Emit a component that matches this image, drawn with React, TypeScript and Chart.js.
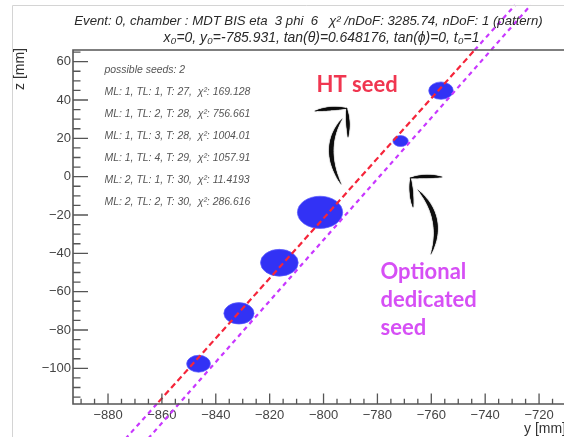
import React, { useEffect, useRef } from "react";
import { Chart, registerables } from "chart.js";

Chart.register(...registerables);

// ---- data (y in mm along horizontal axis, z in mm along vertical axis) ----
const hitY = [-846.4, -831.4, -816.4, -801.3, -771.4, -756.4];
const hitZ = [-97.6, -71.3, -44.9, -18.6, 18.6, 44.9];
const hitR = [4.4, 5.6, 7.0, 8.4, 2.85, 4.55];

const htSeedY = [-866.0, -738.2];
const htSeedZ = [-125, 75];
const optSeedY = [-867.2, -723.1];
const optSeedZ = [-140, 89.5];
const htExtTopY = [-743.9, -728.9];
const htExtTopZ = [66.1, 89.5];
const htExtBotY = [-861.9, -875.6];
const htExtBotZ = [-118.6, -140];

const xTicks = [-880, -860, -840, -820, -800, -780, -760, -740, -720];
const zTicks = [-100, -80, -60, -40, -20, 0, 20, 40, 60];
const xRange = [-893, -710];
const zRange = [-118.6, 66.1];

const titleLines = [
  "Event: 0, chamber : MDT BIS eta  3 phi  6   \u03c7\u00b2 /nDoF: 3285.74, nDoF: 1 (pattern)",
  "x\u2080=0, y\u2080=-785.931, tan(\u03b8)=0.648176, tan(\u03d5)=0, t\u2080=1",
];
const seedLines = [
  "possible seeds: 2",
  "ML: 1, TL: 1, T: 27,  \u03c7\u00b2: 169.128",
  "ML: 1, TL: 2, T: 28,  \u03c7\u00b2: 756.661",
  "ML: 1, TL: 3, T: 28,  \u03c7\u00b2: 1004.01",
  "ML: 1, TL: 4, T: 29,  \u03c7\u00b2: 1057.91",
  "ML: 2, TL: 1, T: 30,  \u03c7\u00b2: 11.4193",
  "ML: 2, TL: 2, T: 30,  \u03c7\u00b2: 286.616",
];
const xTitle = "y [mm]";
const zTitle = "z [mm]";
const htLabel = "HT seed";
const optLabel = ["Optional", "dedicated", "seed"];

const FONT = '"Liberation Sans", Arial, Helvetica, sans-serif';
const LATO = 'Lato, "Open Sans", sans-serif';
const RED = "#f5253a";
const MAG = "#c837ff";
const BLUE = "#3232f5";

const fmt = (v: number | string) => String(v).replace("-", "\u2212");
const pts = (xs: number[], ys: number[]) => xs.map((x, i) => ({ x, y: ys[i] }));

function fitSize(ctx: CanvasRenderingContext2D, text: string, style: string, family: string, target: number) {
  ctx.font = `${style} 20px ${family}`;
  const w = ctx.measureText(text).width;
  return (20 * target) / w;
}

function brush(ctx: CanvasRenderingContext2D, p0: number[], c: number[], p1: number[], w: number) {
  const n = 40;
  ctx.save();
  ctx.strokeStyle = "#111";
  ctx.lineCap = "round";
  ctx.shadowColor = "rgba(0,0,0,0.45)";
  ctx.shadowBlur = 1.5;
  let px = p0[0], py = p0[1];
  for (let i = 1; i <= n; i++) {
    const t = i / n;
    const x = (1 - t) * (1 - t) * p0[0] + 2 * (1 - t) * t * c[0] + t * t * p1[0];
    const y = (1 - t) * (1 - t) * p0[1] + 2 * (1 - t) * t * c[1] + t * t * p1[1];
    ctx.lineWidth = 0.5 + w * Math.sin(Math.PI * (t - 0.5 / n));
    ctx.beginPath();
    ctx.moveTo(px, py);
    ctx.lineTo(x, y);
    ctx.stroke();
    px = x; py = y;
  }
  ctx.restore();
}

const decorPlugin = {
  id: "decor",
  beforeDatasetsDraw(chart: any) {
    const ctx: CanvasRenderingContext2D = chart.ctx;
    const xs = chart.scales.x, ys = chart.scales.y;
    const meta = chart.getDatasetMeta(4);
    ctx.save();
    meta.data.forEach((el: any, i: number) => {
      const rx = Math.abs(xs.getPixelForValue(hitY[i] + hitR[i]) - el.x);
      const ry = Math.abs(ys.getPixelForValue(hitZ[i] + hitR[i]) - el.y);
      ctx.beginPath();
      ctx.ellipse(el.x, el.y, rx, ry, 0, 0, Math.PI * 2);
      ctx.fillStyle = BLUE;
      ctx.fill();
      ctx.lineWidth = 1;
      ctx.strokeStyle = "rgba(90,90,255,0.7)";
      ctx.stroke();
    });
    ctx.restore();
  },
  afterDraw(chart: any) {
    const ctx: CanvasRenderingContext2D = chart.ctx;
    const a = chart.chartArea;
    const xs = chart.scales.x, ys = chart.scales.y;
    ctx.save();
    // page border
    ctx.strokeStyle = "#d4d4d4";
    ctx.lineWidth = 1;
    ctx.beginPath();
    ctx.moveTo(12.5, 437);
    ctx.lineTo(12.5, 5.5);
    ctx.lineTo(600, 5.5);
    ctx.stroke();

    // frame
    ctx.strokeStyle = "#555";
    ctx.lineWidth = 1.6;
    ctx.beginPath();
    ctx.moveTo(a.right + 2, a.top);
    ctx.lineTo(a.left, a.top);
    ctx.lineTo(a.left, a.bottom);
    ctx.lineTo(a.right + 2, a.bottom);
    ctx.stroke();
    // ticks
    ctx.lineWidth = 1.3;
    ctx.beginPath();
    for (let v = -890; v <= xRange[1]; v += 5) {
      const x = xs.getPixelForValue(v);
      const len = v % 20 === 0 ? 10.6 : 5.3;
      ctx.moveTo(x, a.bottom);
      ctx.lineTo(x, a.bottom - len);
    }
    for (let v = -115; v <= zRange[1]; v += 5) {
      const y = ys.getPixelForValue(v);
      const len = v % 20 === 0 ? 15 : 7.5;
      ctx.moveTo(a.left, y);
      ctx.lineTo(a.left + len, y);
    }
    ctx.stroke();

    // axis titles
    ctx.fillStyle = "#333";
    ctx.font = `14px ${FONT}`;
    ctx.textAlign = "right";
    ctx.textBaseline = "alphabetic";
    ctx.fillText(xTitle, a.right, 433);
    ctx.save();
    ctx.translate(24, a.top - 2);
    ctx.rotate(-Math.PI / 2);
    ctx.textAlign = "right";
    ctx.fillText(zTitle, 0, 0);
    ctx.restore();

    // title
    ctx.fillStyle = "#2a2a2a";
    ctx.textAlign = "center";
    const ts = fitSize(ctx, titleLines[0], "italic", FONT, 469);
    ctx.font = `italic ${ts}px ${FONT}`;
    ctx.fillText(titleLines[0], 308.5, 24.5);
    const ts2 = fitSize(ctx, titleLines[1], "italic", FONT, 316);
    ctx.font = `italic ${Math.min(ts2, ts * 1.08)}px ${FONT}`;
    ctx.fillText(titleLines[1], 321.5, 41.5);

    // seeds box
    const ss = fitSize(ctx, seedLines[1], "italic", FONT, 146);
    ctx.font = `italic ${ss}px ${FONT}`;
    ctx.fillStyle = "#555";
    ctx.textAlign = "left";
    seedLines.forEach((s, i) => ctx.fillText(s, 104.5, 72.5 + i * 22));

    // annotations
    ctx.font = `bold 22px ${LATO}`;
    ctx.fillStyle = "#f03650";
    ctx.fillText(htLabel, 316.5, 91.5);
    ctx.fillStyle = "#d64ff5";
    optLabel.forEach((s, i) => ctx.fillText(s, 380.5, 278.5 + i * 28));

    // hand-drawn arrows
    brush(ctx, [315, 111], [331, 107.5], [347, 108.5], 2.4);
    brush(ctx, [346.5, 108], [348.5, 122], [348, 137], 2.4);
    brush(ctx, [342, 119], [321, 148], [341, 184], 3.6);
    brush(ctx, [410, 178], [426, 175.5], [442, 177], 2.4);
    brush(ctx, [410.5, 178], [411, 193], [413, 207], 2.4);
    brush(ctx, [418, 190], [445, 218], [431, 254], 3.6);
    ctx.restore();
  },
};

export default function App() {
  const ref = useRef<HTMLCanvasElement | null>(null);
  useEffect(() => {
    if (!ref.current) return;
    const tickFont = { family: FONT, size: 13 };
    const chart = new Chart(ref.current, {
      type: "scatter",
      data: {
        datasets: [
          {
            data: pts(htSeedY, htSeedZ),
            showLine: true,
            borderColor: RED,
            borderWidth: 2.2,
            borderDash: [6, 3.5],
            pointRadius: 0,
            clip: 0,
          } as any,
          {
            data: pts(optSeedY, optSeedZ),
            showLine: true,
            borderColor: MAG,
            borderWidth: 2.2,
            borderDash: [4.5, 4],
            pointRadius: 0,
            clip: false,
          },
          {
            data: pts(htExtTopY, htExtTopZ),
            showLine: true,
            borderColor: MAG,
            borderWidth: 2.2,
            borderDash: [4.5, 4],
            pointRadius: 0,
            clip: false,
          },
          {
            data: pts(htExtBotY, htExtBotZ),
            showLine: true,
            borderColor: MAG,
            borderWidth: 2.2,
            borderDash: [4.5, 4],
            pointRadius: 0,
            clip: false,
          },
          {
            data: pts(hitY, hitZ),
            pointRadius: 0,
            showLine: false,
          },
        ],
      },
      options: {
        responsive: false,
        animation: false,
        events: [],
        layout: { padding: { left: 0, top: 50, right: 34, bottom: 0 } },
        plugins: { legend: { display: false }, tooltip: { enabled: false }, title: { display: false } },
        scales: {
          x: {
            type: "linear",
            position: "bottom",
            min: xRange[0],
            max: xRange[1],
            afterBuildTicks: (s: any) => {
              s.ticks = xTicks.map((v) => ({ value: v }));
            },
            afterFit: (s: any) => {
              s.height = 33;
            },
            grid: { display: false, drawTicks: false },
            border: { display: false },
            ticks: { font: tickFont, color: "#444", padding: 4, maxRotation: 0, autoSkip: false, callback: fmt },
          },
          y: {
            type: "linear",
            position: "left",
            min: zRange[0],
            max: zRange[1],
            afterBuildTicks: (s: any) => {
              s.ticks = zTicks.map((v) => ({ value: v }));
            },
            afterFit: (s: any) => {
              s.width = 73;
            },
            grid: { display: false, drawTicks: false },
            border: { display: false },
            ticks: { font: tickFont, color: "#444", padding: 2, autoSkip: false, callback: fmt },
          },
        },
      },
      plugins: [decorPlugin],
    });
    return () => chart.destroy();
  }, []);
  return (
    <div style={{ position: "absolute", left: 0, top: 0, width: 564, height: 437, overflow: "hidden", background: "#fff" }}>
      <canvas ref={ref} width={600} height={437} style={{ display: "block" }} />
    </div>
  );
}
